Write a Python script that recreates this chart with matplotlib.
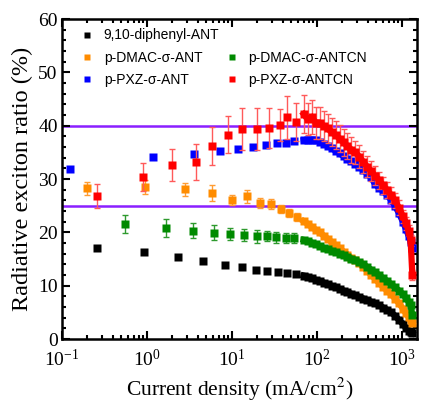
import numpy as np
import matplotlib
matplotlib.use("Agg")
import matplotlib.pyplot as plt
from matplotlib.lines import Line2D
from matplotlib.ticker import MultipleLocator, LogLocator, NullFormatter

# ---- data ----
# sparse low-current points
black_x = [0.26, 0.92, 2.3, 4.6, 8.2, 13, 19.4, 26, 35, 45, 57]
black_y = [17.1, 16.3, 15.4, 14.6, 13.9, 13.5, 12.9, 12.8, 12.6, 12.4, 12.2]

orange_x = [0.196, 0.94, 2.8, 5.9, 10, 15, 21.5, 29, 38, 47, 58]
orange_y = [28.3, 28.5, 28.1, 27.4, 26.1, 26.8, 25.5, 25.3, 24.4, 23.6, 22.9]
orange_e = [1.2, 1.3, 1.2, 1.5, 1.0, 1.2, 1.0, 1.0, 0.8, 0.8, 0.8]

green_x = [0.55, 1.66, 3.5, 6.2, 9.6, 14, 19.5, 26, 33, 43.5, 54]
green_y = [21.6, 20.8, 20.3, 19.9, 19.7, 19.5, 19.3, 19.3, 19.1, 18.9, 18.9]
green_e = [1.7, 1.7, 1.4, 1.4, 1.2, 1.2, 1.2, 1.0, 1.0, 0.9, 0.9]

blue_x = [0.124, 1.17, 3.6, 7.3, 11.9, 17.8, 25, 34, 43.5, 54]
blue_y = [31.9, 34.1, 34.7, 35.3, 35.6, 36.0, 36.4, 36.8, 36.8, 37.1]

red_x = [0.26, 0.89, 2.0, 3.8, 5.9, 9.1, 13.3, 20, 27, 36.5, 45, 57]
red_y = [26.8, 30.4, 32.6, 33.2, 36.2, 38.3, 39.4, 39.4, 39.6, 40.1, 41.6, 40.7]
red_e = [2.3, 2.6, 3.0, 3.3, 3.5, 3.5, 4.0, 4.0, 3.8, 3.0, 4.0, 3.5]

# dense high-current part
dense_x = [70, 78, 87, 97, 108, 120, 134, 149, 166, 185, 206, 229, 255, 284, 316,
           352, 392, 436, 486, 541, 602, 670, 746, 830, 924, 1030, 1120, 1200, 1270, 1330]
black_d = [11.9, 11.7, 11.4, 11.1, 10.9, 10.6, 10.3, 10.0, 9.7, 9.4, 9.1, 8.8, 8.5, 8.2, 7.9,
           7.6, 7.3, 7.0, 6.7, 6.3, 5.9, 5.5, 5.0, 4.4, 3.6, 2.8, 2.1, 1.6, 1.3, 1.1]
orange_d = [22.1, 21.6, 21.0, 20.5, 20.0, 19.4, 18.8, 18.2, 17.6, 17.0, 16.4, 15.8, 15.2, 14.8, 14.2,
            13.5, 12.8, 12.0, 11.3, 10.5, 9.8, 9.1, 8.4, 7.6, 6.7, 5.7, 4.8, 4.1, 3.5, 3.0]
green_d = [18.6, 18.4, 18.1, 17.8, 17.4, 17.1, 16.9, 16.6, 16.3, 16.0, 15.7, 15.4, 15.1, 14.8, 14.4,
           14.0, 13.5, 13.0, 12.5, 12.0, 11.4, 10.9, 10.3, 9.7, 9.1, 8.4, 7.7, 7.0, 6.3, 4.5]
blue_d = [37.3, 37.4, 37.4, 37.3, 37.0, 36.6, 36.2, 35.8, 35.3, 34.8, 34.3, 33.8, 33.3, 32.9, 32.3,
          31.7, 31.0, 30.3, 29.0, 28.4, 27.7, 27.0, 26.1, 25.0, 23.6, 22.0, 20.6, 19.4, 18.2, 17.0]
red_d = [42.2, 41.2, 41.6, 40.6, 40.5, 40.0, 39.5, 38.8, 38.3, 37.6, 36.9, 36.2, 35.5, 35.0, 34.2,
         33.2, 32.3, 31.5, 30.6, 29.8, 28.8, 28.0, 27.0, 26.0, 24.6, 23.0, 21.7, 20.3, 18.5, 12.0]
red_de = [3.5, 3.0, 3.2, 3.0, 3.0, 2.8, 2.8, 2.6, 2.6, 2.5, 2.5, 2.4, 2.4, 2.2, 2.2,
          2.0, 2.0, 1.8, 1.8, 1.6, 1.6, 1.5, 1.5, 1.4, 1.4, 1.2, 1.2, 1.0, 1.0, 1.0]

labels = ["9,10-diphenyl-ANT", "p-DMAC-σ-ANT", "p-PXZ-σ-ANT", "p-DMAC-σ-ANTCN", "p-PXZ-σ-ANTCN"]
ref_lines = [40, 25]

plt.rcParams['font.family'] = ['Liberation Serif', 'DejaVu Serif']
plt.rcParams['mathtext.fontset'] = 'stix'

fig = plt.figure(figsize=(4.21, 4.07), dpi=100)
ax = fig.add_axes([0.147, 0.167, 0.843, 0.786])

ms = 6
ebkw = dict(fmt='none', capsize=2.5, elinewidth=1.0, capthick=1.0)


def draw(xs, ys, xd, yd, color, z):
    # sparse markers, then the dense band (markers joined by a thick line)
    ax.plot(xs, ys, 's', color=color, ms=ms, mec='none', zorder=z)
    ax.plot(xd, yd, '-s', color=color, ms=ms, mec='none', lw=4.5,
            solid_joinstyle='miter', zorder=z)


ax.errorbar(orange_x, orange_y, yerr=orange_e, ecolor='#ff9d33', **ebkw, zorder=2)
ax.errorbar(green_x, green_y, yerr=green_e, ecolor='#2e9a2e', **ebkw, zorder=2)
ax.errorbar(red_x + dense_x, red_y + red_d, yerr=red_e + red_de, ecolor='#ff5a5a', **ebkw, zorder=4)

draw(black_x, black_y, dense_x, black_d, 'black', 3)
draw(orange_x, orange_y, dense_x, orange_d, '#ff8c00', 3)
draw(green_x, green_y, dense_x, green_d, '#008a00', 3.1)
draw(blue_x, blue_y, dense_x, blue_d, '#0000ff', 3)
draw(red_x, red_y, dense_x, red_d, '#ff0000', 5)

for v in ref_lines:
    ax.axhline(v, color='#8a1fff', lw=1.8, zorder=1)

ax.set_xscale('log')
ax.set_xlim(0.1, 1500)
ax.set_ylim(0, 60)
ax.yaxis.set_major_locator(MultipleLocator(10))
ax.yaxis.set_minor_locator(MultipleLocator(2))
ax.xaxis.set_major_locator(LogLocator(base=10, numticks=10))
ax.xaxis.set_minor_locator(LogLocator(base=10, subs=np.arange(2, 10), numticks=20))
ax.xaxis.set_minor_formatter(NullFormatter())
ax.tick_params(which='both', direction='in', top=True, right=True, width=1.5, labelsize=14)
ax.tick_params(which='major', length=6)
ax.tick_params(which='minor', length=3)
ax.tick_params(axis='x', pad=7)
ax.tick_params(axis='y', pad=3)
for s in ax.spines.values():
    s.set_linewidth(1.8)

ax.set_xlabel('Current density (mA/cm$^2$)', fontsize=15.5, labelpad=4)
ax.set_ylabel('Radiative exciton ratio (%)', fontsize=17.5, labelpad=4)

cols = ['black', '#ff8c00', '#0000ff', None, '#008a00', '#ff0000']
names = [labels[0], labels[1], labels[2], '', labels[3], labels[4]]
handles = []
for c in cols:
    if c is None:
        handles.append(Line2D([], [], ls='none', marker=None))
    else:
        handles.append(Line2D([], [], ls='none', marker='s', color=c, ms=5, mec='none'))
ax.legend(handles, names, ncol=2, loc='upper left', frameon=False,
          prop={'family': ['Liberation Sans', 'DejaVu Sans'], 'size': 10},
          handlelength=0.8, handletextpad=0.8, columnspacing=0.5, labelspacing=0.6,
          bbox_to_anchor=(0.02, 1.01))

fig.savefig('out.png', dpi=100)
